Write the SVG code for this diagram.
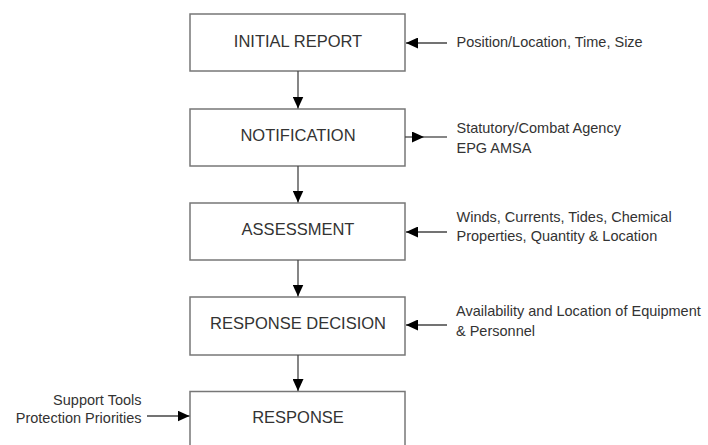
<svg xmlns="http://www.w3.org/2000/svg" width="708" height="445" viewBox="0 0 708 445">
<style>
.box{fill:#fff;stroke:#777;stroke-width:1.5}
.bt{font-family:"Liberation Sans",Arial,sans-serif;font-size:16.5px;fill:#333;text-anchor:middle}
.st{font-family:"Liberation Sans",Arial,sans-serif;font-size:14.5px;fill:#333}
.ln{stroke:#444;stroke-width:1.3;fill:none}
.hd{fill:#000}
</style>
<defs>
<marker id="ah" markerUnits="userSpaceOnUse" markerWidth="12" markerHeight="11" refX="12" refY="5.5" orient="auto">
<path d="M0,0 L12,5.5 L0,11 z" fill="#000"/>
</marker>
</defs>
<rect width="708" height="445" fill="#fff"/>
<g id="node-initial-report">
<rect class="box" x="190" y="14" width="215" height="57"/>
<text class="bt" x="298" y="47">INITIAL REPORT</text>
</g>
<g id="node-notification">
<rect class="box" x="190" y="109" width="215" height="57"/>
<text class="bt" x="298" y="141">NOTIFICATION</text>
</g>
<g id="node-assessment">
<rect class="box" x="190" y="203" width="215" height="57"/>
<text class="bt" x="298" y="234.5">ASSESSMENT</text>
</g>
<g id="node-response-decision">
<rect class="box" x="190" y="297" width="215" height="58"/>
<text class="bt" x="298" y="329">RESPONSE DECISION</text>
</g>
<g id="node-response">
<rect class="box" x="190" y="391.5" width="215" height="70"/>
<text class="bt" x="298" y="423">RESPONSE</text>
</g>
<g id="labels">
<text class="st" x="456.5" y="47">Position/Location, Time, Size</text>
<text class="st" x="456.5" y="132.5">Statutory/Combat Agency</text>
<text class="st" x="456.5" y="152.5">EPG AMSA</text>
<text class="st" x="456.5" y="222">Winds, Currents, Tides, Chemical</text>
<text class="st" x="456.5" y="241">Properties, Quantity &amp; Location</text>
<text class="st" x="456" y="316">Availability and Location of Equipment</text>
<text class="st" x="456" y="336">&amp; Personnel</text>
<text class="st" x="141.5" y="405" text-anchor="end">Support Tools</text>
<text class="st" x="141.5" y="423" text-anchor="end">Protection Priorities</text>
</g>
<g id="connectors">
<line class="ln" x1="298" y1="71" x2="298" y2="108.5" marker-end="url(#ah)"/>
<line class="ln" x1="298" y1="166" x2="298" y2="202.5" marker-end="url(#ah)"/>
<line class="ln" x1="298" y1="260" x2="298" y2="296.5" marker-end="url(#ah)"/>
<line class="ln" x1="298" y1="355" x2="298" y2="391" marker-end="url(#ah)"/>
<line class="ln" x1="447" y1="43" x2="406" y2="43" marker-end="url(#ah)"/>
<line class="ln" x1="405" y1="137" x2="424" y2="137" marker-end="url(#ah)"/>
<line class="ln" x1="424" y1="137" x2="447" y2="137"/>
<line class="ln" x1="447" y1="232" x2="406" y2="232" marker-end="url(#ah)"/>
<line class="ln" x1="447" y1="325" x2="406" y2="325" marker-end="url(#ah)"/>
<line class="ln" x1="147" y1="416" x2="189.5" y2="416" marker-end="url(#ah)"/>
</g>
</svg>
